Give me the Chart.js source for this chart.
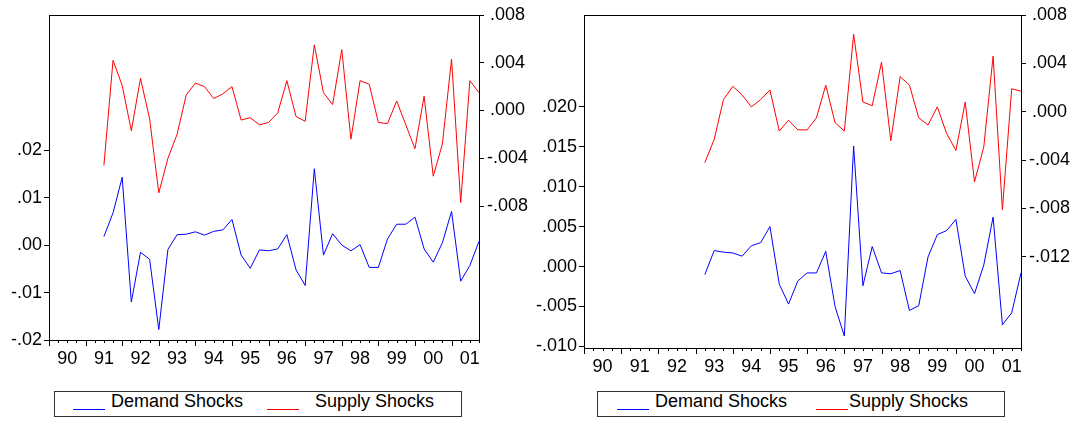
<!DOCTYPE html>
<html>
<head>
<meta charset="utf-8">
<script src="https://cdn.jsdelivr.net/npm/chart.js@4.4.1/dist/chart.umd.min.js"></script>
<style>
  html, body { margin: 0; padding: 0; background: #fff; }
  body { width: 1078px; height: 422px; position: relative; overflow: hidden;
         font-family: 'Liberation Sans', Arial, sans-serif; }
  canvas { position: absolute; top: 0; }
  .lbox { position: absolute; top: 391px; height: 26px; width: 408px; box-sizing: border-box;
          border: 1px solid #333; }
  .swatch { position: absolute; top: 409px; height: 0; width: 32px; border-top: 1px solid; }
  .ltext { position: absolute; top: 392px; font-size: 18px; line-height: 18px; color: #000; white-space: nowrap; }
</style>
</head>
<body>
<canvas id="left" width="539" height="380" style="left:0"></canvas>
<canvas id="right" width="558" height="390" style="left:520px"></canvas>

<div class="lbox" style="left:54px"></div>
<div class="swatch" style="left:73px;border-top-color:#0000ff"></div>
<span class="ltext" style="left:111px">Demand Shocks</span>
<div class="swatch" style="left:267px;border-top-color:#ff0000"></div>
<span class="ltext" style="left:315px">Supply Shocks</span>

<div class="lbox" style="left:597px"></div>
<div class="swatch" style="left:617px;border-top-color:#0000ff"></div>
<span class="ltext" style="left:655px">Demand Shocks</span>
<div class="swatch" style="left:816px;border-top-color:#ff0000"></div>
<span class="ltext" style="left:849px">Supply Shocks</span>

<script>
// ---------- data (quarterly, 1990Q1 - 2001Q4) ----------
const YEARS = ['90', '91', '92', '93', '94', '95', '96', '97', '98', '99', '00', '01'];
const QUARTERS = YEARS.flatMap(y => ['Q1', 'Q2', 'Q3', 'Q4'].map(q => y + q));

// left panel: sample starts 1991Q3
const leftDemand = [null, null, null, null, null, null,
    0.0018, 0.0068, 0.0143, -0.0120, -0.0015, -0.0030, -0.0178, -0.0009, 0.0022, 0.0023,
    0.0028, 0.0021, 0.0029, 0.0032, 0.0054, -0.0021, -0.0049, -0.0010, -0.0012, -0.0008,
    0.0022, -0.0052, -0.0085, 0.0161, -0.0021, 0.0024, 0.0000, -0.0012, 0.0001, -0.0047,
    -0.0047, 0.0013, 0.0044, 0.0044, 0.0059, -0.0008, -0.0036, 0.0005, 0.0071, -0.0076,
    -0.0043, 0.0008];
const leftSupply = [null, null, null, null, null, null,
    -0.0046, 0.0042, 0.0021, -0.0017, 0.0027, -0.0007, -0.0069, -0.0040, -0.0020, 0.0013,
    0.0023, 0.0020, 0.0010, 0.0014, 0.0020, -0.0008, -0.0006, -0.0012, -0.0010, -0.0002,
    0.0025, -0.0005, -0.0009, 0.0055, 0.0015, 0.0005, 0.0051, -0.0024, 0.0025, 0.0022,
    -0.0010, -0.0011, 0.0008, -0.0012, -0.0032, 0.0012, -0.0055, -0.0028, 0.0043, -0.0077,
    0.0025, 0.0015];

// right panel: sample starts 1993Q2
const rightDemand = [null, null, null, null, null, null, null, null, null, null, null, null, null,
    -0.0010, 0.0020, 0.0018, 0.0017, 0.0013, 0.0026, 0.0030, 0.0050, -0.0022, -0.0047,
    -0.0018, -0.0008, -0.0008, 0.0019, -0.0050, -0.0087, 0.0151, -0.0024, 0.0025, -0.0008,
    -0.0009, -0.0005, -0.0055, -0.0049, 0.0012, 0.0040, 0.0045, 0.0059, -0.0012, -0.0034,
    0.0002, 0.0062, -0.0073, -0.0058, -0.0008];
const rightSupply = [null, null, null, null, null, null, null, null, null, null, null, null, null,
    -0.0042, -0.0023, 0.0010, 0.0021, 0.0014, 0.0004, 0.0010, 0.0018, -0.0016, -0.0007,
    -0.0015, -0.0015, -0.0005, 0.0022, -0.0009, -0.0016, 0.0064, 0.0008, 0.0005, 0.0041,
    -0.0024, 0.0029, 0.0022, -0.0005, -0.0011, 0.0004, -0.0018, -0.0032, 0.0008, -0.0058,
    -0.0029, 0.0046, -0.0081, 0.0019, 0.0017];

// axis ticks
const LEFT_Y1_TICKS = [-0.02, -0.01, 0, 0.01, 0.02];
const LEFT_Y2_TICKS = [-0.008, -0.004, 0, 0.004, 0.008];
const RIGHT_Y1_TICKS = [-0.010, -0.005, 0, 0.005, 0.010, 0.015, 0.020];
const RIGHT_Y2_TICKS = [-0.012, -0.008, -0.004, 0, 0.004, 0.008];

// ---------- chart setup ----------
Chart.defaults.font.family = "'Liberation Sans', Arial, sans-serif";
Chart.defaults.font.size = 18;
Chart.defaults.color = '#000';

function fmt(v, dec) {
    if (Math.abs(v) < 1e-9) v = 0;
    return v.toFixed(dec).replace(/^(-?)0\./, '$1.');
}

// top edge of the box and quarterly tick marks below the time axis
const framePlugin = {
    id: 'frame',
    afterDraw(chart) {
        const { ctx, chartArea: a, scales: { x } } = chart;
        ctx.save();
        ctx.strokeStyle = '#000';
        ctx.lineWidth = 1;
        ctx.beginPath();
        ctx.moveTo(a.left, a.top + 0.5);
        ctx.lineTo(a.right + 1, a.top + 0.5);
        for (let i = 0; i < QUARTERS.length; i++) {
            const px = Math.round(x.getPixelForValue(i)) + 0.5;
            const len = i % 4 === 0 ? 6 : 3;
            ctx.moveTo(px, a.bottom);
            ctx.lineTo(px, a.bottom + len);
        }
        ctx.stroke();
        ctx.restore();
    }
};

function yAxis(pos, c) {
    return {
        type: 'linear', position: pos, min: c.min, max: c.max,
        afterBuildTicks: s => { s.ticks = c.ticks.map(v => ({ value: v })); },
        afterFit: s => { s.width = c.width; },
        grid: { drawOnChartArea: false, drawTicks: true, tickLength: 5, tickColor: '#000' },
        border: { display: true, color: '#000', width: 1 },
        ticks: {
            padding: pos === 'left' ? 2 : 3,
            crossAlign: pos === 'left' ? 'near' : 'center',
            callback: v => fmt(v, c.dec)
        }
    };
}

function makePanel(id, demand, supply, cfg) {
    new Chart(document.getElementById(id), {
        type: 'line',
        data: {
            labels: QUARTERS,
            datasets: [
                { label: 'Demand Shocks', data: demand, yAxisID: 'y1', borderColor: '#0000ff', borderWidth: 1, pointRadius: 0, tension: 0 },
                { label: 'Supply Shocks', data: supply, yAxisID: 'y2', borderColor: '#ff0000', borderWidth: 1, pointRadius: 0, tension: 0 }
            ]
        },
        options: {
            responsive: false,
            animation: false,
            devicePixelRatio: 1,
            layout: { padding: { top: 15, left: 0, right: 0, bottom: 0 } },
            plugins: { legend: { display: false }, tooltip: { enabled: false } },
            scales: {
                x: {
                    offset: false,
                    afterFit: s => { s.height = cfg.xHeight; },
                    grid: { drawOnChartArea: false, drawTicks: false },
                    border: { display: true, color: '#000', width: 1 },
                    ticks: {
                        autoSkip: false, maxRotation: 0, padding: 8,
                        callback: (v, i) => i % 4 === 2 ? YEARS[Math.floor(i / 4)] : ''
                    }
                },
                y1: yAxis('left', cfg.y1),
                y2: yAxis('right', cfg.y2)
            }
        },
        plugins: [framePlugin]
    });
}

makePanel('left', leftDemand, leftSupply, {
    xHeight: 40,
    y1: { min: -0.02, max: 0.0485, ticks: LEFT_Y1_TICKS, dec: 2, width: 49 },
    y2: { min: -0.01922, max: 0.008, ticks: LEFT_Y2_TICKS, dec: 3, width: 60 }
});

makePanel('right', rightDemand, rightSupply, {
    xHeight: 42,
    y1: { min: -0.0102, max: 0.0315, ticks: RIGHT_Y1_TICKS, dec: 3, width: 64 },
    y2: { min: -0.01954, max: 0.008, ticks: RIGHT_Y2_TICKS, dec: 3, width: 57 }
});
</script>
</body>
</html>
